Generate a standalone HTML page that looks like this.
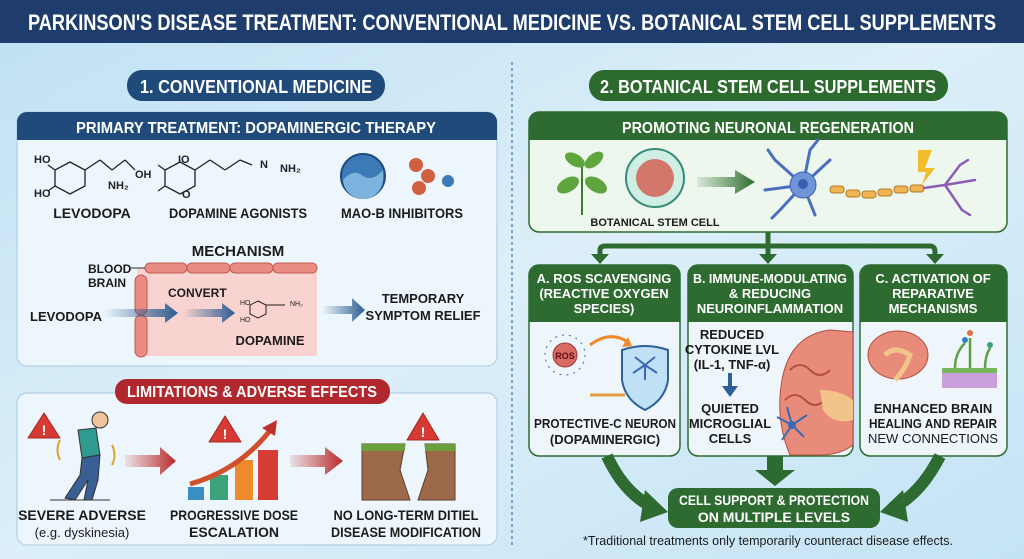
<!DOCTYPE html>
<html><head><meta charset="utf-8"><style>
html,body{margin:0;padding:0;width:1024px;height:559px;overflow:hidden;background:#cfe7f5}
svg{display:block}
text{font-family:"Liberation Sans Narrow","Liberation Sans",sans-serif;font-weight:bold}
</style></head><body>
<svg width="1024" height="559" viewBox="0 0 1024 559" xmlns="http://www.w3.org/2000/svg">
<defs>
<linearGradient id="bg" x1="0" y1="0" x2="1" y2="1"><stop offset="0" stop-color="#bfe0f3"/><stop offset="0.5" stop-color="#dceff9"/><stop offset="1" stop-color="#c4e3f5"/></linearGradient>
<linearGradient id="ab" x1="0" x2="1"><stop offset="0" stop-color="#2e5d93" stop-opacity="0"/><stop offset="1" stop-color="#2e5d93"/></linearGradient>
<linearGradient id="ar" x1="0" x2="1"><stop offset="0" stop-color="#c0332f" stop-opacity="0.1"/><stop offset="1" stop-color="#b8282a"/></linearGradient>
<linearGradient id="ag" x1="0" x2="1"><stop offset="0" stop-color="#2f6e2f" stop-opacity="0.1"/><stop offset="1" stop-color="#2f6e2f"/></linearGradient>
</defs>
<rect width="1024" height="559" fill="url(#bg)"/>
<!-- title -->
<rect x="0" y="0" width="1024" height="43" fill="#1e3c6c"/>
<text x="512" y="30" font-size="22" fill="#fff" text-anchor="middle" textLength="968" lengthAdjust="spacingAndGlyphs">PARKINSON'S DISEASE TREATMENT: CONVENTIONAL MEDICINE VS. BOTANICAL STEM CELL SUPPLEMENTS</text>
<line x1="512" y1="62" x2="512" y2="545" stroke="#5a8bb5" stroke-width="1.5" stroke-dasharray="3,3"/>

<!-- LEFT -->
<rect x="127" y="70" width="258" height="31" rx="15" fill="#1f4a7a"/>
<text x="256" y="93" font-size="18" fill="#fff" text-anchor="middle" textLength="232" lengthAdjust="spacingAndGlyphs">1. CONVENTIONAL MEDICINE</text>
<rect x="17" y="112" width="480" height="254" rx="10" fill="#edf6fc" stroke="#a9c9e2"/>
<path d="M17 140 V122 a10 10 0 0 1 10 -10 H487 a10 10 0 0 1 10 10 V140 Z" fill="#1f4a7a"/>
<text x="256" y="133" font-size="16" fill="#fff" text-anchor="middle" textLength="360" lengthAdjust="spacingAndGlyphs">PRIMARY TREATMENT: DOPAMINERGIC THERAPY</text>
<!-- levodopa molecule -->
<g stroke="#222" stroke-width="1.3" fill="none">
<polygon points="70,162 85,170 85,186 70,194 55,186 55,170"/>
<line x1="85" y1="170" x2="100" y2="160"/><line x1="100" y1="160" x2="112" y2="170"/><line x1="112" y1="170" x2="125" y2="160"/><line x1="125" y1="160" x2="135" y2="170"/>
<line x1="55" y1="170" x2="48" y2="165"/><line x1="55" y1="186" x2="48" y2="191"/>
<polygon points="180,162 195,170 195,186 180,194 165,186 165,170"/>
<line x1="195" y1="170" x2="210" y2="160"/><line x1="210" y1="160" x2="225" y2="170"/><line x1="225" y1="170" x2="240" y2="160"/><line x1="240" y1="160" x2="252" y2="165"/>
<line x1="165" y1="170" x2="158" y2="165"/><line x1="165" y1="186" x2="158" y2="191"/>
</g>
<g font-size="11" fill="#222" style="font-weight:normal">
<text x="34" y="163">HO</text><text x="34" y="197">HO</text><text x="108" y="189">NH₂</text><text x="135" y="178">OH</text>
<text x="178" y="163">IO</text><text x="182" y="198">O</text><text x="260" y="168">N</text><text x="280" y="172">NH₂</text>
</g>
<circle cx="363" cy="176" r="22" fill="#3c7ab8" stroke="#1f4a7a" stroke-width="2"/>
<path d="M343 180 q10 -12 20 -4 q10 6 20 -6 v8 a20 20 0 0 1 -40 2z" fill="#7cb4df"/>
<circle cx="416" cy="165" r="7" fill="#d0603f"/><circle cx="428" cy="176" r="7" fill="#d0603f"/><circle cx="419" cy="188" r="7" fill="#d0603f"/><circle cx="448" cy="181" r="6" fill="#3c7ab8"/>
<g font-size="14" fill="#1b1b1b" text-anchor="middle">
<text x="92" y="218">LEVODOPA</text><text x="238" y="218" textLength="138" lengthAdjust="spacingAndGlyphs">DOPAMINE AGONISTS</text><text x="402" y="218" textLength="122" lengthAdjust="spacingAndGlyphs">MAO-B INHIBITORS</text>
<text x="238" y="256" font-size="15">MECHANISM</text>
</g>
<rect x="137" y="268" width="180" height="88" fill="#f9d3cf"/>
<g fill="#e98d83" stroke="#c25a52">
<rect x="145" y="263" width="42" height="10" rx="5"/><rect x="187" y="263" width="43" height="10" rx="5"/><rect x="230" y="263" width="43" height="10" rx="5"/><rect x="273" y="263" width="44" height="10" rx="5"/>
<rect x="135" y="275" width="12" height="40" rx="6"/><rect x="135" y="315" width="12" height="42" rx="6"/>
</g>
<line x1="131" y1="268" x2="145" y2="268" stroke="#333"/>
<g font-size="12" fill="#1b1b1b"><text x="88" y="273">BLOOD</text><text x="88" y="287">BRAIN</text><text x="168" y="297">CONVERT</text>
<text x="30" y="321" font-size="13">LEVODOPA</text></g>
<path d="M104 309 H165 V303 L178 313 L165 323 V317 H104Z" fill="url(#ab)"/>
<path d="M183 309 H222 V303 L235 313 L222 323 V317 H183Z" fill="url(#ab)"/>
<g stroke="#222" fill="none"><polygon points="258,301 266,305 266,314 258,318 250,314 250,305"/><line x1="266" y1="305" x2="285" y2="305"/></g>
<text x="240" y="305" font-size="7" fill="#222" style="font-weight:normal">HO</text><text x="240" y="322" font-size="7" fill="#222" style="font-weight:normal">HO</text><text x="290" y="306" font-size="7" fill="#222" style="font-weight:normal">NH₂</text>
<text x="270" y="345" font-size="13" fill="#1b1b1b" text-anchor="middle">DOPAMINE</text>
<path d="M322 306 H352 V298 L365 310 L352 322 V314 H322Z" fill="url(#ab)"/>
<g font-size="13" fill="#1b1b1b" text-anchor="middle"><text x="423" y="303">TEMPORARY</text><text x="423" y="320" textLength="115" lengthAdjust="spacingAndGlyphs">SYMPTOM RELIEF</text></g>

<!-- limitations -->
<rect x="17" y="393" width="480" height="152" rx="10" fill="#edf6fc" stroke="#a9c9e2"/>
<rect x="115" y="379" width="275" height="25" rx="12" fill="#b0282e"/>
<text x="252" y="397" font-size="16" fill="#fff" text-anchor="middle" textLength="250" lengthAdjust="spacingAndGlyphs">LIMITATIONS &amp; ADVERSE EFFECTS</text>
<g fill="#d63a32" stroke="#a82520" stroke-linejoin="round">
<polygon points="44,413 60,438 28,438"/><polygon points="225,416 241,442 209,442"/><polygon points="423,413 439,440 407,440"/>
</g>
<g fill="#fff" font-size="14" text-anchor="middle"><text x="44" y="435">!</text><text x="225" y="439">!</text><text x="423" y="437">!</text></g>
<!-- person -->
<circle cx="100" cy="420" r="8" fill="#f2c29b" stroke="#333"/>
<path d="M78 430 L96 428 L100 455 L82 458Z" fill="#2f9a8f" stroke="#333"/>
<path d="M82 458 L100 455 L98 480 L92 500 L84 500 L88 480 L75 500 L65 498 L80 475Z" fill="#3a5f95" stroke="#333"/>
<line x1="50" y1="500" x2="110" y2="500" stroke="#333"/>
<path d="M60 440 q-5 10 0 20 M112 445 q5 10 0 20" stroke="#e0a030" fill="none" stroke-width="2"/>
<path d="M125 455 H160 V447 L176 461 L160 475 V467 H125Z" fill="url(#ar)"/>
<path d="M290 455 H325 V447 L343 461 L325 475 V467 H290Z" fill="url(#ar)"/>
<rect x="188" y="487" width="16" height="13" fill="#3a8ec4"/><rect x="210" y="475" width="18" height="25" fill="#3aa37a"/><rect x="235" y="460" width="18" height="40" fill="#ef8a2c"/><rect x="258" y="450" width="20" height="50" fill="#d53d34"/>
<path d="M190 484 Q240 470 272 428" stroke="#d0502e" stroke-width="5" fill="none"/><polygon points="277,420 262,428 275,436" fill="#c0302a"/>
<path d="M362 444 H405 L400 470 L410 500 H362Z" fill="#9c6a4a" stroke="#5c3a25"/><path d="M425 444 H455 V500 H418 L428 470Z" fill="#9c6a4a" stroke="#5c3a25"/>
<rect x="362" y="444" width="43" height="7" fill="#6aa03a"/><rect x="425" y="444" width="30" height="7" fill="#6aa03a"/>
<g font-size="14" fill="#1b1b1b" text-anchor="middle">
<text x="82" y="520">SEVERE ADVERSE</text><text x="82" y="537" style="font-weight:normal" font-size="13">(e.g. dyskinesia)</text>
<text x="234" y="520" textLength="128" lengthAdjust="spacingAndGlyphs">PROGRESSIVE DOSE</text><text x="234" y="537">ESCALATION</text>
<text x="406" y="520" textLength="145" lengthAdjust="spacingAndGlyphs">NO LONG-TERM DITIEL</text><text x="406" y="537" textLength="150" lengthAdjust="spacingAndGlyphs">DISEASE MODIFICATION</text>
</g>

<!-- RIGHT -->
<rect x="589" y="70" width="359" height="31" rx="15" fill="#2d6a2e"/>
<text x="768" y="93" font-size="18" fill="#fff" text-anchor="middle" textLength="336" lengthAdjust="spacingAndGlyphs">2. BOTANICAL STEM CELL SUPPLEMENTS</text>
<rect x="529" y="112" width="478" height="120" rx="10" fill="#eef7ee" stroke="#2e6b30" stroke-width="1.5"/>
<path d="M529 140 V122 a10 10 0 0 1 10 -10 H997 a10 10 0 0 1 10 10 V140 Z" fill="#2e6b30"/>
<text x="768" y="133" font-size="16" fill="#fff" text-anchor="middle" textLength="292" lengthAdjust="spacingAndGlyphs">PROMOTING NEURONAL REGENERATION</text>
<path d="M582 215 V160" stroke="#3d7a2a" stroke-width="2"/>
<ellipse cx="568" cy="185" rx="12" ry="7" fill="#5fa43c" transform="rotate(-30 568 185)"/><ellipse cx="596" cy="185" rx="12" ry="7" fill="#5fa43c" transform="rotate(30 596 185)"/><ellipse cx="575" cy="160" rx="11" ry="6" fill="#5fa43c" transform="rotate(30 575 160)"/><ellipse cx="594" cy="160" rx="11" ry="6" fill="#5fa43c" transform="rotate(-40 594 160)"/>
<circle cx="655" cy="178" r="29" fill="#cfeee4" stroke="#3a8a78" stroke-width="2"/><circle cx="655" cy="178" r="19" fill="#d2776a"/>
<path d="M697 177 H735 V170 L755 182 L735 194 V187 H697Z" fill="url(#ag)"/>
<g stroke="#4a6fc0" stroke-width="3" fill="none" stroke-linecap="round">
<path d="M803 185 L775 160 M803 185 L765 190 M803 185 L780 210 M803 185 L810 150 M803 185 L830 160 M803 185 L815 215 M775 160 L768 150 M810 150 L818 140 M780 210 L772 218"/>
</g>
<circle cx="803" cy="185" r="13" fill="#6f95d8" stroke="#3c5fb0"/><circle cx="803" cy="184" r="5" fill="#3a5fae"/>
<g fill="#f0b452" stroke="#b07a28"><rect x="830" y="186" width="14" height="7" rx="3"/><rect x="846" y="190" width="14" height="7" rx="3"/><rect x="862" y="191" width="14" height="7" rx="3"/><rect x="878" y="189" width="14" height="7" rx="3"/><rect x="894" y="186" width="14" height="7" rx="3"/><rect x="910" y="185" width="14" height="7" rx="3"/></g>
<g stroke="#8a5cb8" stroke-width="2.5" fill="none" stroke-linecap="round"><path d="M924 188 L945 185 L960 165 M945 185 L975 180 M945 185 L962 210 M960 165 L968 160 M962 210 L970 215"/></g>
<polygon points="918,150 932,150 925,168 935,168 922,185 926,172 918,172" fill="#f2bd2c"/>
<text x="655" y="226" font-size="11" fill="#1b1b1b" text-anchor="middle">BOTANICAL STEM CELL</text>
<!-- branches -->
<g stroke="#2e6b30" stroke-width="5" fill="none"><path d="M768 232 V246 M600 256 V250 Q600 246 606 246 H930 Q935 246 935 252 V256 M768 246 V256"/></g>
<g fill="#2e6b30"><polygon points="591,254 609,254 600,264"/><polygon points="759,254 777,254 768,264"/><polygon points="926,254 944,254 935,264"/></g>
<!-- boxes -->
<g fill="#eef6fb" stroke="#2e6b30" stroke-width="1.5"><rect x="529" y="265" width="151" height="191" rx="10"/><rect x="688" y="265" width="165" height="191" rx="10"/><rect x="860" y="265" width="147" height="191" rx="10"/></g>
<g fill="#2e6b30"><path d="M529 322 V275 a10 10 0 0 1 10 -10 H670 a10 10 0 0 1 10 10 V322Z"/><path d="M688 322 V275 a10 10 0 0 1 10 -10 H843 a10 10 0 0 1 10 10 V322Z"/><path d="M860 322 V275 a10 10 0 0 1 10 -10 H997 a10 10 0 0 1 10 10 V322Z"/></g>
<g font-size="13" fill="#fff" text-anchor="middle">
<text x="604" y="283">A. ROS SCAVENGING</text><text x="604" y="298">(REACTIVE OXYGEN</text><text x="604" y="313">SPECIES)</text>
<text x="770" y="283" textLength="154" lengthAdjust="spacingAndGlyphs">B. IMMUNE-MODULATING</text><text x="770" y="298">&amp; REDUCING</text><text x="770" y="313">NEUROINFLAMMATION</text>
<text x="933" y="283">C. ACTIVATION OF</text><text x="933" y="298">REPARATIVE</text><text x="933" y="313">MECHANISMS</text>
</g>
<!-- A content -->
<circle cx="565" cy="355" r="20" fill="none" stroke="#3a6ab0" stroke-dasharray="2,5"/>
<circle cx="565" cy="355" r="12" fill="#d86a63" stroke="#a03a35"/><text x="565" y="359" font-size="9" fill="#5a1010" text-anchor="middle">ROS</text>
<path d="M590 345 Q610 330 628 342" stroke="#ef8a2c" stroke-width="3" fill="none"/><polygon points="632,346 622,347 628,337" fill="#ef8a2c"/>
<path d="M622 350 Q645 342 668 350 V380 Q665 400 645 410 Q625 400 622 380Z" fill="#bfe0f5" stroke="#2d5f9a" stroke-width="2"/>
<path d="M645 365 l-10 -8 M645 365 l10 -8 M645 365 v15 M645 365 l-12 8 M645 365 l12 8" stroke="#3d68b5" stroke-width="2"/>
<path d="M590 395 H625" stroke="#e0a040" stroke-width="3"/>
<g font-size="13" fill="#1b1b1b" text-anchor="middle"><text x="605" y="428" textLength="142" lengthAdjust="spacingAndGlyphs">PROTECTIVE-C NEURON</text><text x="605" y="444">(DOPAMINERGIC)</text></g>
<!-- B content -->
<path d="M790 455 Q775 420 782 380 Q790 335 830 330 L853 332 V445 Q840 455 820 455Z" fill="#e98b7b" stroke="#b0503e"/>
<path d="M790 370 q10 -10 20 0 q10 10 20 0 M785 400 q10 -10 20 0 q10 10 20 0" stroke="#b0503e" fill="none" stroke-width="2"/>
<path d="M820 390 q20 0 33 10 v20 q-20 5 -30 -10z" fill="#f2c48a"/>
<g stroke="#3d68b5" stroke-width="2" fill="none"><path d="M792 425 l-15 -8 M792 425 l-10 15 M792 425 l15 -10 M792 425 l12 12 M792 425 l-5 -18"/></g><circle cx="792" cy="425" r="4" fill="#3d68b5"/>
<g font-size="13" fill="#1b1b1b" text-anchor="middle"><text x="732" y="339">REDUCED</text><text x="732" y="354">CYTOKINE LVL</text><text x="732" y="369">(IL-1, TNF-α)</text>
<text x="730" y="413">QUIETED</text><text x="730" y="428">MICROGLIAL</text><text x="730" y="443">CELLS</text></g>
<path d="M730 373 V388" stroke="#2d5f9a" stroke-width="4"/><polygon points="722,386 738,386 730,397" fill="#2d5f9a"/>
<!-- C content -->
<ellipse cx="898" cy="355" rx="30" ry="24" fill="#e98b7b" stroke="#b0503e"/>
<path d="M885 355 q10 -10 25 0 q-5 15 -15 25" stroke="#f2c48a" stroke-width="5" fill="none"/>
<rect x="942" y="372" width="55" height="16" fill="#c9a0dc"/><rect x="942" y="368" width="55" height="5" fill="#78b65a"/>
<g stroke="#5ea040" stroke-width="2.5" fill="none"><path d="M955 368 q0 -15 10 -25 M970 368 v-30 M985 368 q0 -12 5 -20"/></g>
<circle cx="965" cy="340" r="3" fill="#3a7fc0"/><circle cx="970" cy="333" r="3" fill="#e07040"/><circle cx="990" cy="345" r="3" fill="#3aa07a"/>
<g font-size="13" fill="#1b1b1b" text-anchor="middle"><text x="933" y="413">ENHANCED BRAIN</text><text x="933" y="428" textLength="128" lengthAdjust="spacingAndGlyphs">HEALING AND REPAIR</text><text x="933" y="443" style="font-weight:normal">NEW CONNECTIONS</text></g>
<!-- converge -->
<path d="M607 456 Q625 495 655 508" stroke="#2e6b30" stroke-width="12" fill="none"/><polygon points="668,512 645,490 640,522" fill="#2e6b30"/>
<path d="M940 456 Q920 495 892 508" stroke="#2e6b30" stroke-width="12" fill="none"/><polygon points="880,512 903,490 908,522" fill="#2e6b30"/>
<rect x="767" y="456" width="16" height="16" fill="#2e6b30"/><polygon points="755,470 795,470 775,486" fill="#2e6b30"/>
<rect x="668" y="488" width="212" height="40" rx="10" fill="#2e6b30"/>
<g font-size="14" fill="#fff" text-anchor="middle"><text x="774" y="505" textLength="190" lengthAdjust="spacingAndGlyphs">CELL SUPPORT &amp; PROTECTION</text><text x="774" y="522">ON MULTIPLE LEVELS</text></g>
<text x="768" y="545" font-size="12.5" fill="#1b1b1b" text-anchor="middle" style="font-weight:normal" textLength="370" lengthAdjust="spacingAndGlyphs">*Traditional treatments only temporarily counteract disease effects.</text>
</svg>
</body></html>
